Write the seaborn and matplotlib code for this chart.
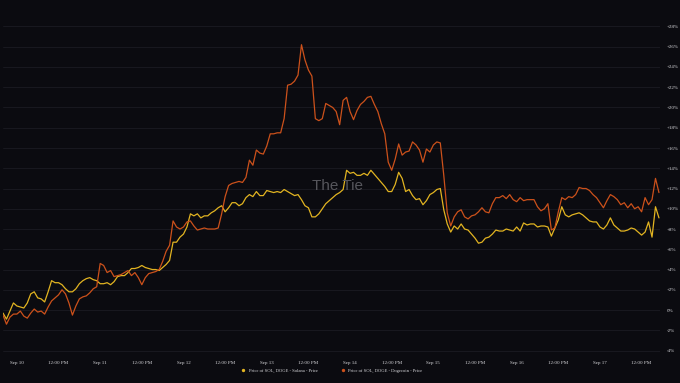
import pandas as pd
import matplotlib.pyplot as plt
import matplotlib.dates as mdates
import matplotlib.ticker as mticker
from matplotlib.lines import Line2D
import seaborn as sns

# hourly samples, % change since start
start_time = "2024-09-09 20:00"
solana = [-0.3, -0.9, -0.1, 0.7, 0.4, 0.3, 0.2, 0.7, 1.6, 1.8,
          1.2, 1.1, 0.8, 1.8, 2.9, 2.7, 2.7, 2.5, 2.1, 1.8,
          1.8, 2.1, 2.6, 2.9, 3.1, 3.2, 3.0, 2.9, 2.6, 2.6,
          2.7, 2.5, 2.8, 3.3, 3.4, 3.4, 3.7, 4.1, 4.1, 4.2,
          4.4, 4.2, 4.1, 4.0, 4.0, 3.9, 4.2, 4.5, 4.9, 6.7,
          6.7, 7.2, 7.5, 8.2, 9.5, 9.3, 9.5, 9.1, 9.3, 9.3,
          9.6, 9.8, 10.1, 10.3, 9.7, 10.1, 10.6, 10.6, 10.3, 10.5,
          11.1, 11.4, 11.2, 11.7, 11.3, 11.3, 11.8, 11.7, 11.6, 11.7,
          11.6, 11.9, 11.7, 11.5, 11.3, 11.4, 10.9, 10.3, 10.1, 9.2,
          9.2, 9.5, 10.0, 10.5, 10.8, 11.1, 11.4, 11.6, 11.9, 13.8,
          13.5, 13.6, 13.3, 13.3, 13.5, 13.3, 13.8, 13.4, 13.0, 12.6,
          12.2, 11.7, 11.7, 12.4, 13.6, 13.0, 11.7, 11.9, 11.3, 10.9,
          11.0, 10.4, 10.8, 11.4, 11.6, 11.9, 12.0, 9.9, 8.5, 7.7,
          8.3, 8.0, 8.5, 8.0, 7.9, 7.5, 7.1, 6.6, 6.7, 7.1,
          7.2, 7.5, 7.9, 7.8, 7.8, 8.0, 7.9, 7.8, 8.2, 7.8,
          8.6, 8.4, 8.5, 8.5, 8.2, 8.3, 8.3, 8.2, 7.3, 8.1,
          8.9, 10.2, 9.4, 9.2, 9.4, 9.5, 9.6, 9.4, 9.1, 8.8,
          8.7, 8.7, 8.2, 8.0, 8.4, 9.1, 8.4, 8.1, 7.8, 7.8,
          7.9, 8.1, 8.0, 7.7, 7.4, 7.7, 8.7, 7.2, 10.2, 9.1]
dogecoin = [-0.5, -1.4, -0.7, -0.4, -0.4, -0.1, -0.6, -0.8, -0.3, 0.1,
            -0.2, -0.1, -0.4, 0.3, 0.9, 1.2, 1.5, 2.0, 1.6, 0.7,
            -0.5, 0.4, 1.1, 1.3, 1.4, 1.7, 2.1, 2.3, 4.6, 4.4,
            3.7, 3.9, 3.3, 3.4, 3.5, 3.7, 3.9, 3.4, 3.7, 3.2,
            2.5, 3.2, 3.6, 3.7, 3.8, 4.0, 4.8, 5.8, 6.4, 8.8,
            8.2, 8.0, 8.2, 8.7, 8.8, 8.3, 7.9, 8.0, 8.1, 8.0,
            8.0, 8.0, 8.1, 9.5, 11.2, 12.3, 12.5, 12.6, 12.7, 12.6,
            13.1, 14.8, 14.3, 15.8, 15.5, 15.4, 16.2, 17.4, 17.4, 17.5,
            17.5, 18.9, 22.2, 22.3, 22.6, 23.2, 26.2, 24.7, 23.7, 23.1,
            18.9, 18.7, 18.9, 20.4, 20.2, 20.0, 19.6, 18.3, 20.7, 21.0,
            19.6, 18.8, 19.7, 20.3, 20.6, 21.0, 21.1, 20.3, 19.6, 18.4,
            17.4, 14.6, 13.8, 14.9, 16.4, 15.3, 15.6, 15.7, 16.6, 16.3,
            15.8, 14.6, 15.9, 15.6, 16.3, 16.6, 16.5, 13.3, 9.6, 8.3,
            9.2, 9.7, 9.9, 9.2, 9.0, 9.3, 9.4, 9.7, 10.1, 9.7,
            9.6, 10.5, 11.1, 11.1, 11.3, 11.0, 11.4, 10.9, 10.7, 11.1,
            10.8, 10.9, 10.9, 10.9, 10.2, 9.8, 10.0, 10.5, 7.9, 8.1,
            9.7, 11.1, 10.9, 11.2, 11.1, 11.4, 12.1, 12.0, 12.0, 11.8,
            11.4, 11.1, 10.6, 10.1, 10.8, 11.4, 11.2, 10.9, 10.4, 10.6,
            10.1, 10.5, 10.0, 10.2, 9.7, 11.1, 10.4, 10.9, 13.0, 11.6]
series_names = ["Price of SOL, DOGE - Solana - Price",
                "Price of SOL, DOGE - Dogecoin - Price"]
colors = ["#e2b421", "#cc511b"]
y_ticks = list(range(-4, 29, 2))

times = pd.date_range(start_time, periods=len(solana), freq="1h")
df = pd.DataFrame({
    "time": list(times) * 2,
    "value": solana + dogecoin,
    "series": [series_names[0]] * len(solana) + [series_names[1]] * len(dogecoin),
})

bg = "#0b0b10"
text_col = "#d8d8dc"
sns.set_theme(style="dark")
plt.rcParams["font.family"] = ["Liberation Serif", "DejaVu Serif"]

fig = plt.figure(figsize=(6.8, 3.83), dpi=100, facecolor=bg)
ax = fig.add_axes([3 / 680, 28 / 383, 657 / 680, 335 / 383])
ax.set_facecolor(bg)

sns.lineplot(data=df, x="time", y="value", hue="series", palette=colors,
             linewidth=0.9, ax=ax, legend=False)

t0 = pd.Timestamp(start_time)
ax.set_xlim(t0, t0 + pd.Timedelta(hours=189.3))
ax.set_ylim(-4.44, 28.64)

ax.xaxis.set_major_locator(mdates.HourLocator(byhour=[0, 12]))
ax.xaxis.set_major_formatter(mticker.FuncFormatter(
    lambda v, pos: mdates.num2date(v).strftime("%b %-d") if mdates.num2date(v).hour == 0 else "12:00 PM"))

ax.yaxis.tick_right()
ax.set_yticks(y_ticks)
ax.set_yticklabels([f"+{v}%" if v > 0 else f"{v}%" for v in y_ticks])

ax.tick_params(axis="both", length=0, labelsize=3.6, labelcolor=text_col)
ax.tick_params(axis="x", pad=4)
ax.tick_params(axis="y", pad=5)
ax.set_xlabel("")
ax.set_ylabel("")
for s in ax.spines.values():
    s.set_visible(False)
ax.grid(axis="y", color="#1b1b22", linewidth=0.6)
ax.grid(axis="x", visible=False)

fig.text(337 / 680, 1 - 186 / 383, "The Tie", ha="center", va="center",
         fontsize=11, color="#56565c", family="Liberation Sans")

handles = [Line2D([0], [0], color=c, marker="o", markersize=1.4, linestyle="none")
           for c in colors]
fig.legend(handles, series_names, loc="center", bbox_to_anchor=(0.486, 1 - 371 / 383),
           ncol=2, frameon=False, fontsize=3.3, labelcolor=text_col,
           handletextpad=0.2, columnspacing=4.5)

fig.savefig("out.png", dpi=100, facecolor=bg)
